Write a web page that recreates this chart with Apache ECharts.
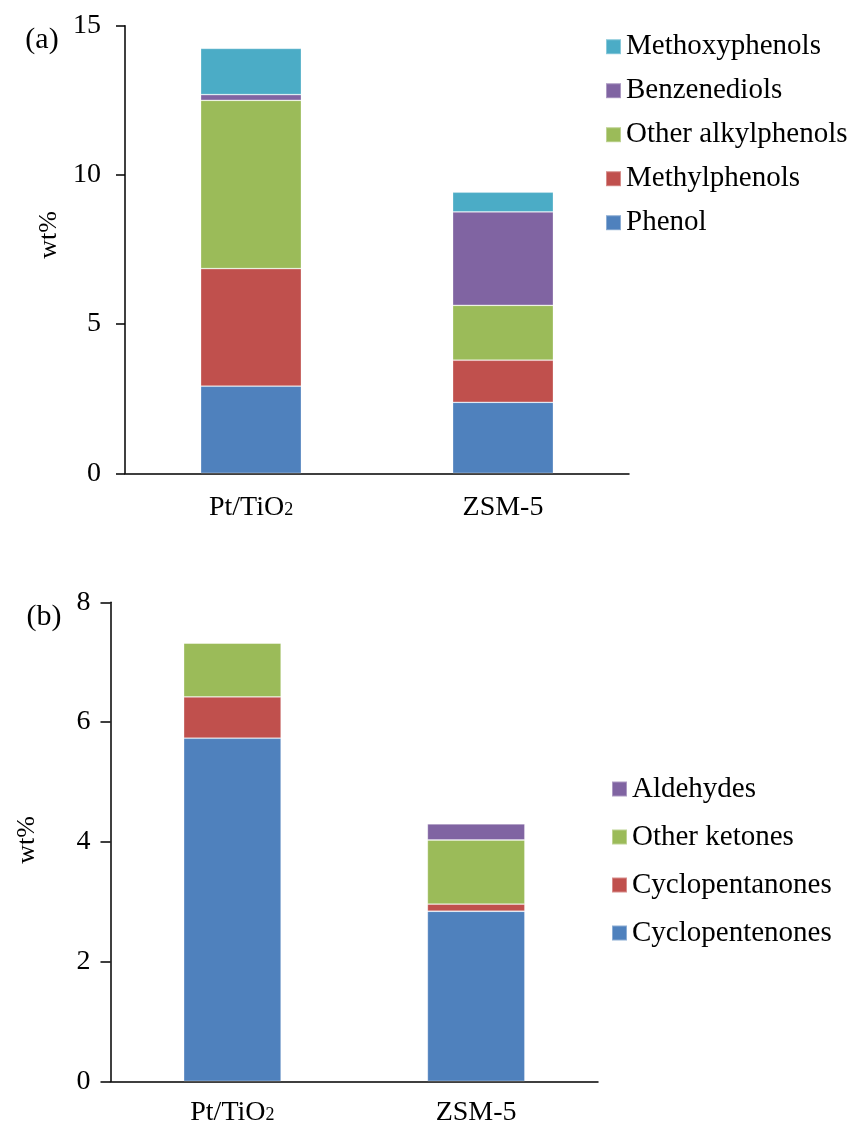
<!DOCTYPE html>
<html>
<head>
<meta charset="utf-8">
<script src="https://cdn.jsdelivr.net/npm/echarts@6/dist/echarts.min.js"></script>
<style>
html,body{margin:0;padding:0;background:#fff;}
#main{width:855px;height:1129px;}
</style>
</head>
<body>
<div id="main"></div>
<script>
// ---- Data ----
const categories = ['Pt/TiO\u2082', 'ZSM-5'];

// Panel (a) phenolic compounds, wt%
const phenol            = [2.92, 2.38];
const methylphenols     = [3.94, 1.41];
const otherAlkylphenols = [5.64, 1.84];
const benzenediols      = [0.19, 3.13];
const methoxyphenols    = [1.55, 0.66];

// Panel (b) ketones / aldehydes, wt%
const cyclopentenones = [5.73, 2.84];
const cyclopentanones = [0.69, 0.12];
const otherKetones    = [0.90, 1.07];
const aldehydes       = [0.00, 0.27];

const legendA = ['Methoxyphenols', 'Benzenediols', 'Other alkylphenols', 'Methylphenols', 'Phenol'];
const legendB = ['Aldehydes', 'Other ketones', 'Cyclopentanones', 'Cyclopentenones'];

const C_BLUE = '#4F81BD', C_RED = '#C0504D', C_GREEN = '#9BBB59', C_PURPLE = '#8064A2', C_CYAN = '#4BACC6';
const FONT = '"Liberation Serif", "Times New Roman", serif';

const chart = echarts.init(document.getElementById('main'), null, {renderer: 'canvas'});

function barSeries(name, data, color, idx, stack) {
  return {
    name: name, type: 'bar', stack: stack,
    xAxisIndex: idx, yAxisIndex: idx,
    data: data, barWidth: '40%',
    itemStyle: {color: color, borderColor: 'rgba(255,255,255,0.35)', borderWidth: 0.8},
    emphasis: {disabled: true}
  };
}

// render the subscript digit of a category name as a small rich-text fragment
function catFormatter(v) {
  const i = v.indexOf('\u2082');
  if (i < 0) return '{n|' + v + '}';
  return '{n|' + v.slice(0, i) + '}{s|2}' + (v.slice(i + 1) ? '{n|' + v.slice(i + 1) + '}' : '');
}
const catRich = {
  n: {fontSize: 28, fontFamily: FONT, color: '#000'},
  s: {fontSize: 18, fontFamily: FONT, color: '#000', verticalAlign: 'bottom', padding: [0, 0, 2, 0]}
};

const axisLineStyle = {color: '#000', width: 1.5};

chart.setOption({
  animation: false,
  backgroundColor: '#fff',
  textStyle: {fontFamily: FONT},
  grid: [
    {left: 125, top: 25.7, width: 504, height: 447.6},
    {left: 110.5, top: 602.3, width: 487.5, height: 479}
  ],
  xAxis: [
    {type: 'category', gridIndex: 0, data: categories,
     axisLine: {lineStyle: axisLineStyle}, axisTick: {show: false},
     axisLabel: {color: '#000', fontSize: 28, fontFamily: FONT, margin: 20, formatter: catFormatter, rich: catRich}},
    {type: 'category', gridIndex: 1, data: categories,
     axisLine: {lineStyle: axisLineStyle}, axisTick: {show: false},
     axisLabel: {color: '#000', fontSize: 28, fontFamily: FONT, margin: 17, formatter: catFormatter, rich: catRich}}
  ],
  yAxis: [
    {type: 'value', gridIndex: 0, min: 0, max: 15, interval: 5,
     axisLine: {show: true, lineStyle: axisLineStyle},
     axisTick: {show: true, length: 9, lineStyle: axisLineStyle},
     splitLine: {show: false},
     axisLabel: {color: '#000', fontSize: 28, fontFamily: FONT, margin: 24}},
    {type: 'value', gridIndex: 1, min: 0, max: 8, interval: 2,
     axisLine: {show: true, lineStyle: axisLineStyle},
     axisTick: {show: true, length: 10, lineStyle: axisLineStyle},
     splitLine: {show: false},
     axisLabel: {color: '#000', fontSize: 28, fontFamily: FONT, margin: 20}}
  ],
  legend: [
    {data: legendA, orient: 'vertical', left: 605, top: 31.7, padding: 0,
     icon: 'rect', itemWidth: 15, itemHeight: 15, itemGap: 14,
     selectedMode: false,
     textStyle: {color: '#000', fontSize: 29, fontFamily: FONT, lineHeight: 30}},
    {data: legendB, orient: 'vertical', left: 611, top: 774, padding: 0,
     icon: 'rect', itemWidth: 15, itemHeight: 15, itemGap: 18,
     selectedMode: false,
     textStyle: {color: '#000', fontSize: 29, fontFamily: FONT, lineHeight: 30}}
  ],
  graphic: [
    {type: 'text', x: 42, y: 40, style: {text: '(a)', font: '30px ' + FONT, fill: '#000', align: 'center', verticalAlign: 'middle'}},
    {type: 'text', x: 44, y: 617, style: {text: '(b)', font: '30px ' + FONT, fill: '#000', align: 'center', verticalAlign: 'middle'}},
    {type: 'text', x: 49, y: 235, rotation: Math.PI / 2, style: {text: 'wt%', font: '26px ' + FONT, fill: '#000', align: 'center', verticalAlign: 'middle'}},
    {type: 'text', x: 27, y: 840, rotation: Math.PI / 2, style: {text: 'wt%', font: '26px ' + FONT, fill: '#000', align: 'center', verticalAlign: 'middle'}}
  ],
  series: [
    barSeries('Phenol', phenol, C_BLUE, 0, 'a'),
    barSeries('Methylphenols', methylphenols, C_RED, 0, 'a'),
    barSeries('Other alkylphenols', otherAlkylphenols, C_GREEN, 0, 'a'),
    barSeries('Benzenediols', benzenediols, C_PURPLE, 0, 'a'),
    barSeries('Methoxyphenols', methoxyphenols, C_CYAN, 0, 'a'),
    barSeries('Cyclopentenones', cyclopentenones, C_BLUE, 1, 'b'),
    barSeries('Cyclopentanones', cyclopentanones, C_RED, 1, 'b'),
    barSeries('Other ketones', otherKetones, C_GREEN, 1, 'b'),
    barSeries('Aldehydes', aldehydes, C_PURPLE, 1, 'b')
  ]
});
</script>
</body>
</html>
